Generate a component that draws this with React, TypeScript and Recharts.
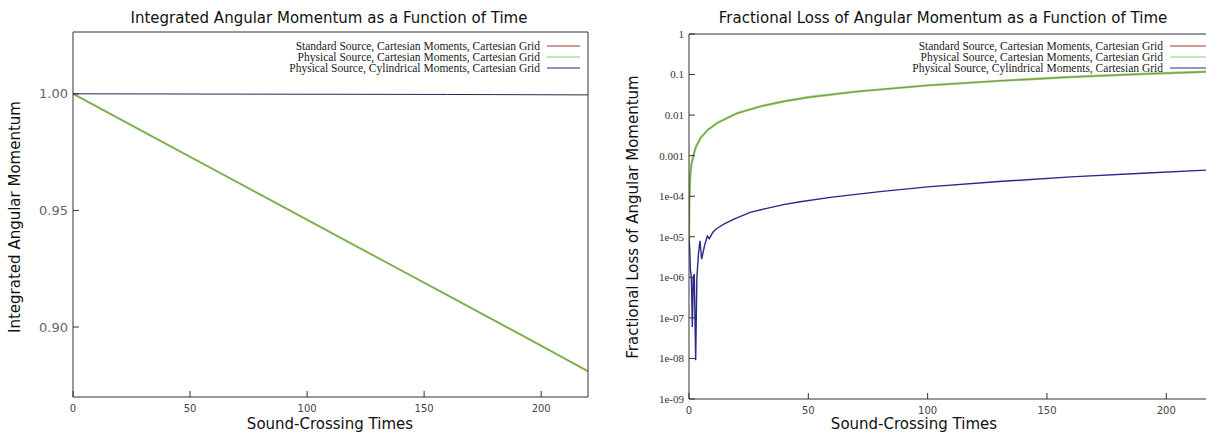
import React from 'react'
import { Line, LineChart, XAxis, YAxis } from 'recharts'

// integrated angular momentum (left panel)
const timeJ = [0, 20, 40, 60, 80, 100, 120, 140, 160, 180, 200, 220]
const standardJ = [1.0, 0.9892, 0.9784, 0.9676, 0.9568, 0.946, 0.9352, 0.9244, 0.9136, 0.9028, 0.892, 0.881]
const physicalJ = [1.0, 0.9892, 0.9784, 0.9676, 0.9568, 0.946, 0.9352, 0.9244, 0.9136, 0.9028, 0.892, 0.881]
const cylindricalJ = [1.0, 0.99997, 0.99993, 0.99988, 0.99985, 0.99982, 0.99979, 0.99975, 0.99971, 0.99966, 0.99959, 0.99954]

// fractional loss (right panel)
const timeLoss = [0, 0.1, 0.2, 0.5, 1, 2, 3, 5, 8, 12, 20, 30, 40, 50, 70, 100, 130, 160, 190, 220]
const standardLoss = [1e-5, 5e-5, 1e-4, 3e-4, 6e-4, 1.1e-3, 1.7e-3, 2.8e-3, 4.4e-3, 6.5e-3, 0.011, 0.0165, 0.022, 0.0275, 0.038, 0.054, 0.07, 0.087, 0.103, 0.119]
const physicalLoss = [1e-5, 5e-5, 1e-4, 3e-4, 6e-4, 1.1e-3, 1.7e-3, 2.8e-3, 4.4e-3, 6.5e-3, 0.011, 0.0165, 0.022, 0.0275, 0.038, 0.054, 0.07, 0.087, 0.103, 0.119]
const timeCyl = [0, 0.3, 0.6, 1.0, 1.4, 1.8, 2.2, 2.8, 3.3, 4.0, 4.6, 5.3, 6.5, 7.7, 8.5, 10, 11.6, 15, 18.6, 25.6, 32.6, 39.6, 46.6, 60, 80, 100, 130, 160, 190, 220]
const cylindricalLoss = [1e-5, 5e-6, 1.5e-6, 1e-6, 6e-8, 1e-6, 1.2e-6, 9e-9, 1e-6, 4e-6, 8e-6, 2.8e-6, 6e-6, 1.04e-5, 9e-6, 1.3e-5, 1.6e-5, 2.1e-5, 2.7e-5, 4e-5, 5e-5, 6.2e-5, 7.3e-5, 9.5e-5, 1.3e-4, 1.7e-4, 2.3e-4, 3e-4, 3.7e-4, 4.5e-4]

const timeTicks = [0, 50, 100, 150, 200]
const jTicks = [0.9, 0.95, 1.0]
const lossTicks = [1e-9, 1e-8, 1e-7, 1e-6, 1e-5, 1e-4, 1e-3, 0.01, 0.1, 1]
const lossLabels = ['1e-09', '1e-08', '1e-07', '1e-06', '1e-05', '1e-04', '0.001', '0.01', '0.1', '1']

const legendNames = [
  'Standard Source, Cartesian Moments, Cartesian Grid',
  'Physical Source, Cartesian Moments, Cartesian Grid',
  'Physical Source, Cylindrical Moments, Cartesian Grid',
]
const colors = ['#a03a3a', '#86d86a', '#28288a']

const toRows = (xs: number[], ys: number[]) => xs.map((t, i) => ({ t, v: ys[i] }))

const sans = 'DejaVu Sans, Verdana, sans-serif'
const serif = 'Liberation Serif, Times New Roman, serif'
const axisColor = '#333'

const LeftTick = (p: any) => {
  const { x, y, payload, fmt, font, size, fill } = p
  return (
    <g>
      <line x1={x + 5} x2={x + 11} y1={y} y2={y} stroke={axisColor} />
      <text x={x} y={y} dy={size * 0.35} textAnchor="end" fontFamily={font} fontSize={size} fill={fill}>
        {fmt(payload.value)}
      </text>
    </g>
  )
}

const BottomTick = (p: any) => {
  const { x, y, payload } = p
  return (
    <g>
      <line x1={x} x2={x} y1={y - 6} y2={y - 12} stroke={axisColor} />
      <text x={x} y={y} dy={9} textAnchor="middle" fontFamily={sans} fontSize={10} fill="#444">
        {payload.value}
      </text>
    </g>
  )
}

const TopTick = (p: any) => <line x1={p.x} x2={p.x} y1={p.y} y2={p.y + 6} stroke={axisColor} />
const RightTick = (p: any) => <line x1={p.x} x2={p.x - 6} y1={p.y} y2={p.y} stroke={axisColor} />

const Legend = ({ right, lineEnd }: { right: number; lineEnd: number }) => (
  <g>
    {legendNames.map((n, i) => (
      <g key={n}>
        <text x={right} y={46 + i * 11 + 4} textAnchor="end" fontFamily={serif} fontSize={11.5} fill="#222">
          {n}
        </text>
        <line x1={right + 7} x2={lineEnd} y1={46 + i * 11} y2={46 + i * 11} stroke={colors[i]} strokeWidth={1.2} />
      </g>
    ))}
  </g>
)

const App = () => {
  return (
    <div style={{ position: 'absolute', left: 0, top: 0, width: 1206, height: 433, overflow: 'hidden', background: '#fff' }}>
      <div style={{ position: 'absolute', left: 0, top: 0 }}>
        <LineChart width={600} height={433} margin={{ top: 31, right: 11, bottom: 0, left: 0 }}>
          <XAxis dataKey="t" type="number" domain={[0, 220]} ticks={timeTicks} interval={0} height={36}
            stroke={axisColor} tickSize={0} tickMargin={6} tick={<BottomTick />} allowDataOverflow />
          <XAxis xAxisId="top" orientation="top" dataKey="t" type="number" domain={[0, 220]} ticks={timeTicks} interval={0}
            height={1} stroke={axisColor} tickSize={0} tickMargin={0} tick={<TopTick />} />
          <YAxis type="number" domain={[0.87, 1.0265]} ticks={jTicks} interval={0} width={73} stroke={axisColor}
            tickSize={0} tickMargin={5} allowDataOverflow
            tick={<LeftTick fmt={(v: number) => v.toFixed(2)} font={sans} size={13} fill="#666" />} />
          <YAxis yAxisId="right" orientation="right" type="number" domain={[0.87, 1.0265]} ticks={jTicks} interval={0}
            width={1} stroke={axisColor} tickSize={0} tickMargin={0} tick={<RightTick />} />
          <Line data={toRows(timeJ, physicalJ)} dataKey="v" stroke={colors[1]} strokeWidth={2.2} dot={false} isAnimationActive={false} />
          <Line data={toRows(timeJ, standardJ)} dataKey="v" stroke={colors[0]} strokeWidth={0.7} strokeOpacity={0.7} dot={false} isAnimationActive={false} />
          <Line data={toRows(timeJ, cylindricalJ)} dataKey="v" stroke="#2a2a50" strokeWidth={1} dot={false} isAnimationActive={false} />
        </LineChart>
      </div>
      <div style={{ position: 'absolute', left: 600, top: 0 }}>
        <LineChart width={622} height={433} margin={{ top: 33, right: 8, bottom: 0, left: 0 }}>
          <XAxis dataKey="t" type="number" domain={[0, 220]} ticks={timeTicks} interval={0} height={34}
            stroke={axisColor} tickSize={0} tickMargin={6} tick={<BottomTick />} allowDataOverflow />
          <XAxis xAxisId="top" orientation="top" dataKey="t" type="number" domain={[0, 220]} ticks={timeTicks} interval={0}
            height={1} stroke={axisColor} tickSize={0} tickMargin={0} tick={<TopTick />} />
          <YAxis type="number" scale="log" domain={[1e-9, 1]} ticks={lossTicks} interval={0} width={89} stroke={axisColor}
            tickSize={0} tickMargin={5} allowDataOverflow
            tick={<LeftTick fmt={(v: number) => lossLabels[lossTicks.indexOf(v)] ?? String(v)} font={serif} size={11} fill="#333" />} />
          <Line data={toRows(timeLoss, physicalLoss)} dataKey="v" stroke={colors[1]} strokeWidth={2.4} dot={false} isAnimationActive={false} />
          <Line data={toRows(timeLoss, standardLoss)} dataKey="v" stroke={colors[0]} strokeWidth={0.7} strokeOpacity={0.7} dot={false} isAnimationActive={false} />
          <Line data={toRows(timeCyl, cylindricalLoss)} dataKey="v" stroke={colors[2]} strokeWidth={1.4} dot={false} isAnimationActive={false} />
        </LineChart>
      </div>
      <svg width={1206} height={433} style={{ position: 'absolute', left: 0, top: 0, pointerEvents: 'none' }}>
        <text x={329} y={23} textAnchor="middle" fontFamily={sans} fontSize={15} fill="#111">
          Integrated Angular Momentum as a Function of Time
        </text>
        <text x={943} y={23} textAnchor="middle" fontFamily={sans} fontSize={15} fill="#111">
          Fractional Loss of Angular Momentum as a Function of Time
        </text>
        <text x={330} y={429} textAnchor="middle" fontFamily={sans} fontSize={15} fill="#111">Sound-Crossing Times</text>
        <text x={914} y={429} textAnchor="middle" fontFamily={sans} fontSize={15} fill="#111">Sound-Crossing Times</text>
        <text transform="translate(20,217) rotate(-90)" textAnchor="middle" fontFamily={sans} fontSize={15} fill="#111">
          Integrated Angular Momentum
        </text>
        <text transform="translate(638,217) rotate(-90)" textAnchor="middle" fontFamily={sans} fontSize={15} fill="#111">
          Fractional Loss of Angular Momentum
        </text>
        <Legend right={540} lineEnd={580} />
        <Legend right={1163} lineEnd={1206} />
      </svg>
    </div>
  )
}

export default App
